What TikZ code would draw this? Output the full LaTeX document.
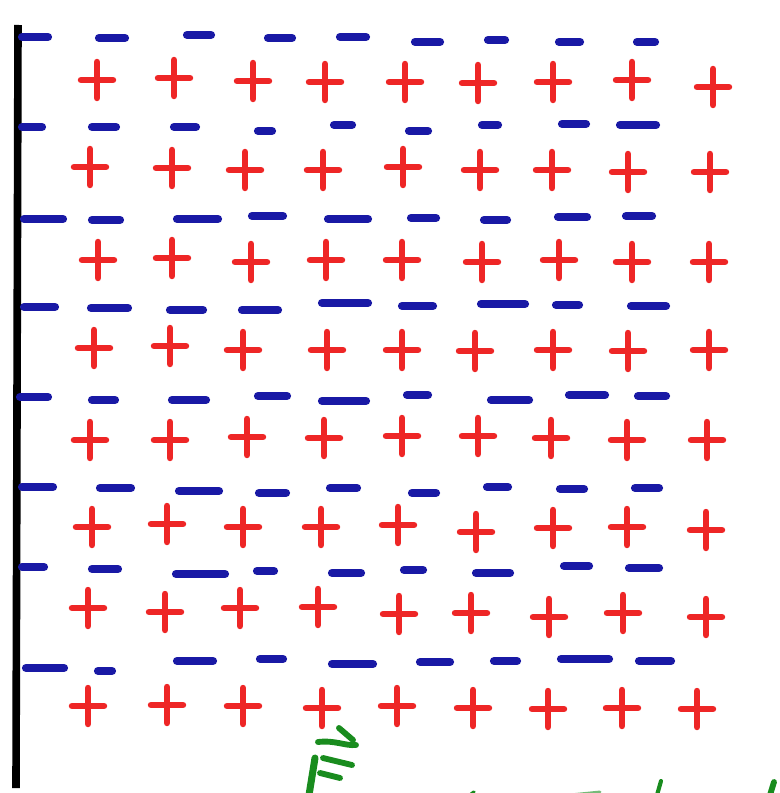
\documentclass[tikz,border=0pt]{standalone}
\usepackage{tikz}

\definecolor{inkblue}{RGB}{25,25,165}
\definecolor{inkred}{RGB}{238,38,38}
\definecolor{inkgreen}{RGB}{25,140,30}

\begin{document}
\begin{tikzpicture}[x=0.03cm, y=-0.03cm,
    negmark/.style={inkblue, line width=7pt, line cap=round},
    posmark/.style={inkred, line width=5.5pt, line cap=round},
    greenmark/.style={inkgreen, line width=5pt, line cap=round}]
  \useasboundingbox (0,0) rectangle (779,793);

  % Left plate
  \coordinate (top) at (18,25);
  \coordinate (bottom) at (16,788);
  \draw[line width=6.5pt] (top) -- (bottom);

  % Rows of negative charges (start/end/height)
  \foreach \a/\b/\y in {22/48/37, 99/125/38, 187/211/35, 268/292/38, 340/366/37,
                        415/440/42, 488/505/40, 559/580/42, 637/655/42,
                        22/42/127, 92/116/127, 174/196/127, 258/272/131, 334/352/125,
                        409/428/131, 482/498/125, 562/586/124, 620/656/125,
                        24/63/219, 92/120/220, 177/218/219, 252/283/216, 328/368/219,
                        411/436/218, 484/507/220, 558/587/217, 626/652/216,
                        24/55/307, 91/128/308, 170/203/310, 242/278/310, 322/368/303,
                        402/433/306, 481/525/304, 556/579/305, 631/666/306,
                        20/48/397, 92/115/400, 172/206/400, 258/287/396, 322/366/401,
                        407/428/395, 491/529/400, 569/605/395, 638/666/396,
                        22/53/487, 100/131/488, 179/219/491, 259/286/493, 330/357/488,
                        412/436/493, 487/508/487, 560/584/489, 635/659/488,
                        22/44/567, 92/118/569, 176/225/574, 257/274/571, 332/361/573,
                        404/423/570, 476/510/573, 564/589/566, 629/659/568,
                        26/64/668, 98/112/671, 177/213/661, 260/283/659, 332/373/664,
                        420/450/662, 494/517/661, 561/609/659, 639/671/661} {
    \draw[negmark] (\a,\y) -- (\b,\y);
  }

  % Rows of positive charges (centre)
  \foreach \x/\y in {97/80, 174/78, 253/81, 325/82, 405/82, 478/83, 553/82, 632/80, 713/87,
                     90/167, 172/168, 245/170, 323/170, 403/167, 480/170, 552/170, 628/172, 710/172,
                     98/260, 172/258, 251/262, 326/260, 402/260, 482/262, 559/260, 632/262, 709/262,
                     94/348, 170/346, 243/350, 327/350, 402/350, 475/351, 553/350, 628/351, 709/350,
                     90/440, 170/440, 247/437, 324/438, 402/436, 478/436, 551/438, 627/440, 707/440,
                     92/527, 167/524, 243/527, 321/527, 398/525, 476/532, 553/528, 627/527, 706/530,
                     88/608, 165/612, 240/608, 318/607, 399/614, 471/613, 549/617, 623/613, 706/617,
                     88/706, 167/705, 243/706, 322/708, 397/706, 473/708, 548/709, 622/708, 697/709} {
    \draw[posmark] (\x-16,\y) -- (\x+16,\y) (\x,\y-18) -- (\x,\y+18);
  }

  % Green scribble at the bottom edge
  \draw[greenmark] (318,742) .. controls (335,740) and (345,746) .. (356,745);
  \draw[greenmark] (339,728) -- (353,740);
  \draw[greenmark] (323,758) -- (352,765);
  \draw[greenmark] (320,773) -- (340,778);
  \draw[greenmark, line width=6pt] (315,758) -- (309,795);
  \draw[greenmark, line width=3pt] (470,795) -- (474,792);
  \draw[greenmark, line width=2.5pt, opacity=0.6] (570,795) -- (600,792);
  \draw[greenmark, line width=3.5pt] (661,781) -- (657,795);
  \draw[greenmark] (774,782) -- (770,795);
\end{tikzpicture}
\end{document}
